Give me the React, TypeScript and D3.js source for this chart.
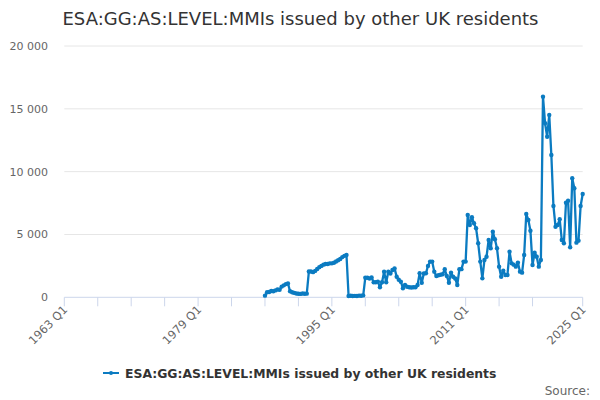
import React, { useEffect, useRef } from "react";
import * as d3 from "d3";

const title = "ESA:GG:AS:LEVEL:MMIs issued by other UK residents";
const seriesName = "ESA:GG:AS:LEVEL:MMIs issued by other UK residents";
const firstYear = 1987; // first observation: 1987 Q1, quarterly
const values: number[] = [
  130, 400, 420, 500,
  480, 550, 620, 600,
  850, 950, 1050, 1100,
  480, 400, 350, 300,
  280, 270, 300, 280,
  290, 2050, 2050, 2000,
  2100, 2250, 2400, 2500,
  2600, 2650, 2650, 2700,
  2700, 2750, 2850, 2950,
  3050, 3200, 3300, 3370,
  100, 120, 100, 110,
  100, 130, 120, 150,
  1560, 1550, 1500, 1580,
  1200, 1200, 1250, 800,
  1200, 2040, 1200, 2040,
  1900, 2170, 2300, 1640,
  1400, 1240, 720, 980,
  840, 800, 780, 800,
  800, 980, 1910, 1150,
  1900, 1910, 2500, 2840,
  2840, 2040, 1700, 1750,
  1800, 1830, 2230, 1700,
  1160, 1960, 1640, 1500,
  980, 2230, 2240, 2840,
  2840, 6550, 5760, 6370,
  5890, 5490, 4300, 2840,
  1510, 2970, 3230, 4560,
  3900, 5220, 4620, 3900,
  2440, 1640, 2120, 1780,
  1780, 3630, 2700, 2600,
  2440, 2760, 2040, 1960,
  3370, 6630, 6150, 5300,
  2570, 3550, 3230, 2440,
  2970, 15970, 13850, 12780,
  14510, 11330, 7270, 5620,
  5750, 6210, 4560, 4300,
  7530, 7690, 3980, 9470,
  8680, 4350, 4510, 7270,
  8220,
];
const yTicks = [0, 5000, 10000, 15000, 20000];
const xLabelYears = [1963, 1979, 1995, 2011, 2025];
const xTickYears = [1963, 1967, 1971, 1975, 1979, 1983, 1987, 1991, 1995, 1999, 2003, 2007, 2011, 2015, 2019, 2025];
const xDomain = [1963, 2025];
const yDomain = [0, 20000];

const W = 600;
const H = 400;
const FONT = "'DejaVu Sans', Verdana, sans-serif";
const COLOR = "#0b7bc1";

export default function App() {
  const ref = useRef<SVGSVGElement>(null);

  useEffect(() => {
    const svg = d3.select(ref.current);
    svg.selectAll("*").remove();

    const left = 64.3, right = 582.7, top = 46, bottom = 297.3;
    const x = d3.scaleLinear().domain(xDomain).range([left, right]);
    const y = d3.scaleLinear().domain(yDomain).range([bottom, top]);
    const fmt = (v: number) => d3.format(",")(v).replace(/,/g, "\u00a0");

    svg.append("rect").attr("width", W).attr("height", H).attr("fill", "#fff");

    // title
    svg.append("text").attr("x", 300.5).attr("y", 25)
      .attr("text-anchor", "middle").attr("font-family", FONT)
      .attr("font-size", 18).attr("fill", "#333").text(title);

    // grid
    const g = svg.append("g");
    yTicks.forEach((t) => {
      if (t > 0) {
        g.append("line").attr("x1", left).attr("x2", right)
          .attr("y1", y(t)).attr("y2", y(t))
          .attr("stroke", "#e6e6e6").attr("stroke-width", 1);
      }
      g.append("text").attr("x", 48).attr("y", y(t) + 4)
        .attr("text-anchor", "end").attr("font-family", FONT)
        .attr("font-size", 11).attr("fill", "#666").text(fmt(t));
    });

    // x axis
    g.append("line").attr("x1", left).attr("x2", right)
      .attr("y1", bottom).attr("y2", bottom)
      .attr("stroke", "#ccd6eb").attr("stroke-width", 1);
    xTickYears.forEach((yr) => {
      g.append("line").attr("x1", x(yr)).attr("x2", x(yr))
        .attr("y1", bottom).attr("y2", bottom + 9)
        .attr("stroke", "#ccd6eb").attr("stroke-width", 1);
    });
    xLabelYears.forEach((yr) => {
      g.append("text")
        .attr("transform", `translate(${x(yr) + 4},${bottom + 13}) rotate(-45)`)
        .attr("text-anchor", "end").attr("font-family", FONT)
        .attr("font-size", 11.5).attr("fill", "#666").text(`${yr} Q1`);
    });

    // series
    const pts = values.map((v, i) => ({ t: firstYear + i / 4, v }));
    const line = d3.line<{ t: number; v: number }>().x((d) => x(d.t)).y((d) => y(d.v));
    svg.append("path").datum(pts).attr("d", line)
      .attr("fill", "none").attr("stroke", COLOR).attr("stroke-width", 2.3)
      .attr("stroke-linejoin", "round");
    svg.append("g").selectAll("circle").data(pts).join("circle")
      .attr("cx", (d) => x(d.t)).attr("cy", (d) => y(d.v)).attr("r", 2.2)
      .attr("fill", COLOR);

    // legend
    const lg = svg.append("g");
    lg.append("line").attr("x1", 103).attr("x2", 119).attr("y1", 373).attr("y2", 373)
      .attr("stroke", COLOR).attr("stroke-width", 2);
    lg.append("circle").attr("cx", 111).attr("cy", 373).attr("r", 2).attr("fill", COLOR);
    lg.append("text").attr("x", 125).attr("y", 378)
      .attr("font-family", FONT).attr("font-size", 12.4).attr("font-weight", "bold")
      .attr("fill", "#333").text(seriesName);

    svg.append("text").attr("x", 590).attr("y", 395).attr("text-anchor", "end")
      .attr("font-family", FONT).attr("font-size", 12).attr("fill", "#666").text("Source:");
  }, []);

  return (
    <svg ref={ref} width={W} height={H}
      style={{ position: "absolute", left: 0, top: 0, display: "block" }} />
  );
}
